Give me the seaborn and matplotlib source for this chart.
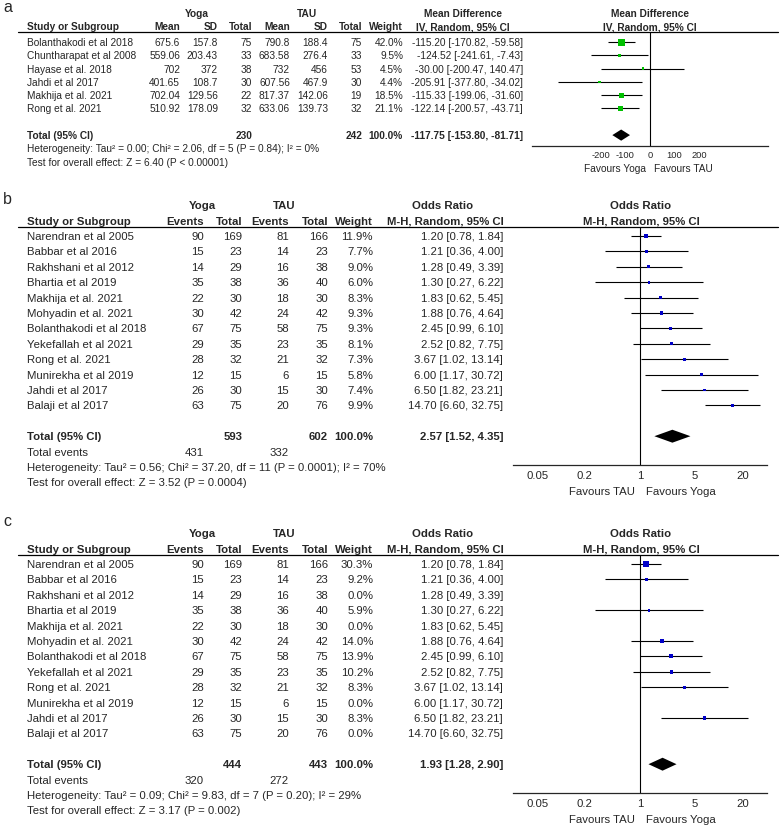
import matplotlib
matplotlib.use("Agg")
import matplotlib.pyplot as plt
from matplotlib.lines import Line2D
import numpy as np
import pandas as pd
import seaborn as sns

W, H = 780, 826

# ---- panel a: continuous outcome, mean difference ----
a_studies = ["Bolanthakodi et al 2018", "Chuntharapat et al 2008", "Hayase et al. 2018",
             "Jahdi et al 2017", "Makhija et al. 2021", "Rong et al. 2021"]
a_yoga_mean = [675.6, 559.06, 702, 401.65, 702.04, 510.92]
a_yoga_sd = [157.8, 203.43, 372, 108.7, 129.56, 178.09]
a_yoga_n = [75, 33, 38, 30, 22, 32]
a_tau_mean = [790.8, 683.58, 732, 607.56, 817.37, 633.06]
a_tau_sd = [188.4, 276.4, 456, 467.9, 142.06, 139.73]
a_tau_n = [75, 33, 53, 30, 19, 32]
a_weight = [42.0, 9.5, 4.5, 4.4, 18.5, 21.1]
a_md = [-115.20, -124.52, -30.00, -205.91, -115.33, -122.14]
a_lo = [-170.82, -241.61, -200.47, -377.80, -199.06, -200.57]
a_hi = [-59.58, -7.43, 140.47, -34.02, -31.60, -43.71]
a_total = (-117.75, -153.80, -81.71)
a_ticks = [-200, -100, 0, 100, 200]

# ---- panels b and c: odds ratios ----
or_studies = ["Narendran et al 2005", "Babbar et al 2016", "Rakhshani et al 2012",
              "Bhartia et al 2019", "Makhija et al. 2021", "Mohyadin et al. 2021",
              "Bolanthakodi et al 2018", "Yekefallah et al 2021", "Rong et al. 2021",
              "Munirekha et al 2019", "Jahdi et al 2017", "Balaji et al 2017"]
yoga_events = [90, 15, 14, 35, 22, 30, 67, 29, 28, 12, 26, 63]
yoga_total = [169, 23, 29, 38, 30, 42, 75, 35, 32, 15, 30, 75]
tau_events = [81, 14, 16, 36, 18, 24, 58, 23, 21, 6, 15, 20]
tau_total = [166, 23, 38, 40, 30, 42, 75, 35, 32, 15, 30, 76]
or_est = [1.20, 1.21, 1.28, 1.30, 1.83, 1.88, 2.45, 2.52, 3.67, 6.00, 6.50, 14.70]
or_lo = [0.78, 0.36, 0.49, 0.27, 0.62, 0.76, 0.99, 0.82, 1.02, 1.17, 1.82, 6.60]
or_hi = [1.84, 4.00, 3.39, 6.22, 5.45, 4.64, 6.10, 7.75, 13.14, 30.72, 23.21, 32.75]
b_weight = [11.9, 7.7, 9.0, 6.0, 8.3, 9.3, 9.3, 8.1, 7.3, 5.8, 7.4, 9.9]
c_weight = [30.3, 9.2, 0.0, 5.9, 0.0, 14.0, 13.9, 10.2, 8.3, 0.0, 8.3, 0.0]
b_total = (2.57, 1.52, 4.35)
c_total = (1.93, 1.28, 2.90)
b_sums = (593, 602, 431, 332)
c_sums = (444, 443, 320, 272)
or_ticks = [0.05, 0.2, 1, 5, 20]
or_ticklabels = ["0.05", "0.2", "1", "5", "20"]

a_het = "Heterogeneity: Tau² = 0.00; Chi² = 2.06, df = 5 (P = 0.84); I² = 0%"
a_test = "Test for overall effect: Z = 6.40 (P < 0.00001)"
b_het = "Heterogeneity: Tau² = 0.56; Chi² = 37.20, df = 11 (P = 0.0001); I² = 70%"
b_test = "Test for overall effect: Z = 3.52 (P = 0.0004)"
c_het = "Heterogeneity: Tau² = 0.09; Chi² = 9.83, df = 7 (P = 0.20); I² = 29%"
c_test = "Test for overall effect: Z = 3.17 (P = 0.002)"


def fx(x):
  return x / W


def fy(y):
  return 1 - y / H


def put(fig, x, y, s, ha="left", size=7.0, bold=False):
  fig.text(fx(x), fy(y), s, ha=ha, va="center_baseline", fontsize=size,
           fontweight="bold" if bold else "normal")


def rule(fig, y, x0=18, x1=778):
  fig.add_artist(Line2D([fx(x0), fx(x1)], [fy(y), fy(y)], transform=fig.transFigure,
                        color="black", lw=0.9))


def forest(fig, df, total, color, ref, left, right, xlim, rule_y, axis_y, row0, dy,
           diamond_row, log=False):
  ax = fig.add_axes([fx(left), fy(axis_y), (right - left) / W, (axis_y - rule_y) / H])
  ax.set_facecolor("none")
  if log:
    ax.set_xscale("log")
  shown = df[df["weight"] > 0]
  ax.hlines(shown["row"], shown["lo"], shown["hi"], color="black", lw=0.8, zorder=2)
  sns.scatterplot(data=shown, x="est", y="row", marker="s", color=color,
                  s=shown["size"].to_numpy(), linewidth=0, legend=False, ax=ax, zorder=3)
  est, lo, hi = total
  h = 0.42
  ax.fill([lo, est, hi, est], [diamond_row, diamond_row - h, diamond_row, diamond_row + h],
          color="black", lw=0, zorder=3)
  ax.axvline(ref, color="black", lw=0.8, zorder=1)
  ax.set_xlim(*xlim)
  ax.set_ylim((axis_y - row0) / dy, (rule_y - row0) / dy)
  ax.set_yticks([])
  ax.set_xlabel("")
  ax.set_ylabel("")
  for side in ["top", "left", "right"]:
    ax.spines[side].set_visible(False)
  ax.spines["bottom"].set_linewidth(0.9)
  return ax


def sq_size(w):
  # box side in px grows with sqrt of weight, 7 px at 42 %
  side_px = 7.0 * np.sqrt(np.asarray(w) / 42.0)
  return (side_px * 0.72) ** 2


def or_panel(fig, label, weights, total, sums, het, test, top, lab_y):
  fs = 8.2
  h1, h2, rl = top + 8, top + 24, top + 30
  row0, dy = top + 39, 15.4
  n = len(or_studies)
  total_y = row0 + (n + 1) * dy
  put(fig, 3, lab_y, label, size=11.5)
  put(fig, 202, h1, "Yoga", ha="center", size=fs, bold=True)
  put(fig, 284, h1, "TAU", ha="center", size=fs, bold=True)
  put(fig, 443, h1, "Odds Ratio", ha="center", size=fs, bold=True)
  put(fig, 641, h1, "Odds Ratio", ha="center", size=fs, bold=True)
  put(fig, 27, h2, "Study or Subgroup", size=fs, bold=True)
  for x, t in [(204, "Events"), (242, "Total"), (289, "Events"), (328, "Total"), (373, "Weight")]:
    put(fig, x, h2, t, ha="right", size=fs, bold=True)
  put(fig, 445, h2, "M-H, Random, 95% CI", ha="center", size=fs, bold=True)
  put(fig, 641, h2, "M-H, Random, 95% CI", ha="center", size=fs, bold=True)
  rule(fig, rl)
  for i in range(n):
    y = row0 + i * dy
    put(fig, 27, y, or_studies[i], size=fs)
    put(fig, 204, y, str(yoga_events[i]), ha="right", size=fs)
    put(fig, 242, y, str(yoga_total[i]), ha="right", size=fs)
    put(fig, 289, y, str(tau_events[i]), ha="right", size=fs)
    put(fig, 328, y, str(tau_total[i]), ha="right", size=fs)
    put(fig, 373, y, f"{weights[i]:.1f}%", ha="right", size=fs)
    put(fig, 503, y, f"{or_est[i]:.2f} [{or_lo[i]:.2f}, {or_hi[i]:.2f}]", ha="right", size=fs)
  put(fig, 27, total_y, "Total (95% CI)", size=fs, bold=True)
  put(fig, 242, total_y, str(sums[0]), ha="right", size=fs, bold=True)
  put(fig, 328, total_y, str(sums[1]), ha="right", size=fs, bold=True)
  put(fig, 373, total_y, "100.0%", ha="right", size=fs, bold=True)
  put(fig, 503, total_y, f"{total[0]:.2f} [{total[1]:.2f}, {total[2]:.2f}]", ha="right",
      size=fs, bold=True)
  put(fig, 27, total_y + dy, "Total events", size=fs)
  put(fig, 204, total_y + dy, str(sums[2]), ha="right", size=fs)
  put(fig, 289, total_y + dy, str(sums[3]), ha="right", size=fs)
  put(fig, 27, total_y + 2 * dy, het, size=fs)
  put(fig, 27, total_y + 3 * dy, test, size=fs)

  df = pd.DataFrame({"row": np.arange(n), "est": or_est, "lo": or_lo, "hi": or_hi,
                     "weight": weights})
  df["size"] = sq_size(df["weight"])
  axis_y = total_y + 2 * dy - 2
  half = 127 / 79
  ax = forest(fig, df, total, "#0000C8", 1, 513, 767, (10 ** -half, 10 ** half), rl, axis_y,
              row0, dy, n + 1, log=True)
  ax.set_xticks(or_ticks)
  ax.set_xticklabels(or_ticklabels)
  ax.minorticks_off()
  ax.tick_params(axis="x", direction="inout", length=5, width=0.8, pad=2, labelsize=fs)
  put(fig, 635, axis_y + 26, "Favours TAU", ha="right", size=fs)
  put(fig, 646, axis_y + 26, "Favours Yoga", size=fs)


def main():
  sns.set_style("white")
  plt.rcParams["font.family"] = ["Liberation Sans", "DejaVu Sans"]
  plt.rcParams["axes.unicode_minus"] = False

  fig = plt.figure(figsize=(W / 100, H / 100), dpi=100)

  # Panel a table.
  fs = 7.25
  row0, dy = 42, 13.3
  n = len(a_studies)
  total_y = row0 + (n + 1) * dy
  put(fig, 3, 6, "a", size=11.5)
  put(fig, 197, 13, "Yoga", ha="center", size=fs, bold=True)
  put(fig, 307, 13, "TAU", ha="center", size=fs, bold=True)
  put(fig, 463, 13, "Mean Difference", ha="center", size=fs, bold=True)
  put(fig, 650, 13, "Mean Difference", ha="center", size=fs, bold=True)
  put(fig, 27, 26, "Study or Subgroup", size=fs, bold=True)
  for x, t in [(180, "Mean"), (218, "SD"), (252, "Total"), (290, "Mean"), (328, "SD"),
               (362, "Total"), (403, "Weight")]:
    put(fig, x, 26, t, ha="right", size=fs, bold=True)
  put(fig, 463, 26, "IV, Random, 95% CI", ha="center", size=fs, bold=True)
  put(fig, 650, 26, "IV, Random, 95% CI", ha="center", size=fs, bold=True)
  rule(fig, 32)
  for i in range(n):
    y = row0 + i * dy
    put(fig, 27, y, a_studies[i], size=fs)
    for x, v in [(180, a_yoga_mean[i]), (218, a_yoga_sd[i]), (252, a_yoga_n[i]),
                 (290, a_tau_mean[i]), (328, a_tau_sd[i]), (362, a_tau_n[i])]:
      put(fig, x, y, f"{v:g}", ha="right", size=fs)
    put(fig, 403, y, f"{a_weight[i]:.1f}%", ha="right", size=fs)
    put(fig, 523, y, f"{a_md[i]:.2f} [{a_lo[i]:.2f}, {a_hi[i]:.2f}]", ha="right", size=fs)
  put(fig, 27, total_y, "Total (95% CI)", size=fs, bold=True)
  put(fig, 252, total_y, str(sum(a_yoga_n)), ha="right", size=fs, bold=True)
  put(fig, 362, total_y, str(sum(a_tau_n)), ha="right", size=fs, bold=True)
  put(fig, 403, total_y, "100.0%", ha="right", size=fs, bold=True)
  put(fig, 523, total_y, f"{a_total[0]:.2f} [{a_total[1]:.2f}, {a_total[2]:.2f}]",
      ha="right", size=fs, bold=True)
  put(fig, 27, total_y + dy, a_het, size=fs)
  put(fig, 27, total_y + 2 * dy, a_test, size=fs)

  df = pd.DataFrame({"row": np.arange(n), "est": a_md, "lo": a_lo, "hi": a_hi,
                     "weight": a_weight})
  df["size"] = sq_size(df["weight"])
  axis_y = total_y + dy - 2
  ax = forest(fig, df, a_total, "#00C000", 0, 532, 768, (-482, 482), 32, axis_y, row0, dy, n + 1)
  ax.set_xticks(a_ticks)
  ax.set_xticklabels([str(t) for t in a_ticks])
  ax.tick_params(axis="x", direction="inout", length=5, width=0.8, pad=1, labelsize=6.7)
  put(fig, 646, axis_y + 22, "Favours Yoga", ha="right", size=fs)
  put(fig, 654, axis_y + 22, "Favours TAU", size=fs)

  # Panels b and c.
  or_panel(fig, "b", b_weight, b_total, b_sums, b_het, b_test, 197, 198)
  or_panel(fig, "c", c_weight, c_total, c_sums, c_het, c_test, 525, 520)

  fig.savefig("out.png", dpi=100)


if __name__ == "__main__":
  main()
